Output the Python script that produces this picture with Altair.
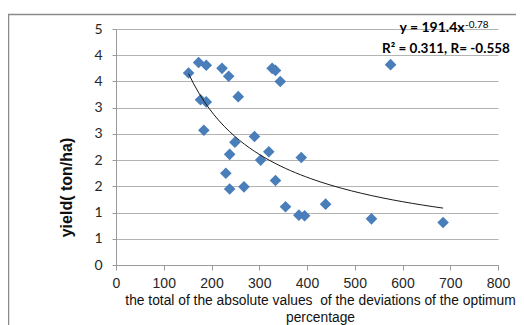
import altair as alt
import pandas as pd

# deviation totals (x) and yields (y)
dev_total = [152, 173, 189, 222, 236, 256, 177, 189, 184, 290, 249, 238, 303, 230, 238, 268,
             320, 388, 334, 355, 383, 395, 439, 535, 685, 575, 327, 334, 344]
yield_val = [3.66, 3.86, 3.81, 3.75, 3.60, 3.21, 3.15, 3.11, 2.57, 2.45, 2.34, 2.11, 2.00, 1.75,
             1.45, 1.49, 2.16, 2.05, 1.61, 1.11, 0.95, 0.94, 1.16, 0.88, 0.81, 3.82, 3.75, 3.71, 3.50]

x_ticks = [0, 100, 200, 300, 400, 500, 600, 700, 800]
y_ticks = [0, 0.5, 1, 1.5, 2, 2.5, 3, 3.5, 4, 4.5]

eq_line1 = "y = 191.4x"
eq_sup = "-0.78"
eq_line2 = "R\u00b2 = 0.311, R= -0.558"

x_title = ["the total of the absolute values\u00a0 of the deviations of the optimum", "percentage"]
y_title = "yield( ton/ha)"

df = pd.DataFrame({"x": dev_total, "y": yield_val})

GRID = "#b3b3b3"
AX = "#9a9a9a"

x_axis = alt.Axis(
    values=x_ticks, tickCount=30, grid=False, tickSize=5, labelPadding=6,
    labelFont="Liberation Sans", labelFontSize=14, labelColor="#262626",
    labelOverlap=False, labelFlush=False,
    domainColor=AX, tickColor=AX,
    title=x_title, titleFont="Liberation Sans", titleFontSize=13.8,
    titleFontWeight="normal", titleColor="#111111",
    titleX=204, titleY=39, titleAlign="center", titleBaseline="alphabetic",
    titleLineHeight=17,
)
y_axis = alt.Axis(
    values=y_ticks, tickCount=30, labelExpr="'' + round(datum.value)",
    labelOverlap=False, labelFlush=False,
    grid=True, gridColor=GRID, gridWidth=1,
    tickSize=4, labelPadding=10,
    labelFont="Lato", labelFontSize=14, labelColor="#262626",
    domainColor=AX, tickColor=AX,
    title=y_title, titleFont="Liberation Sans", titleFontSize=16,
    titleFontWeight="bold", titleColor="#111111",
    titleX=-50, titleY=158, titleAlign="center", titleBaseline="middle",
    titleAngle=270,
)

x_scale = alt.Scale(domain=[0, 800], nice=False, zero=False)
y_scale = alt.Scale(domain=[0, 4.5], nice=False, zero=False)


def xpos(v):
    return alt.XDatum(v, type="quantitative", scale=x_scale, axis=x_axis)


def ypos(v):
    return alt.YDatum(v, type="quantitative", scale=y_scale, axis=y_axis)


base = alt.Chart(df)

points = base.mark_point(shape="diamond", filled=True, size=135, opacity=1, color="#4a7ebb").encode(
    x=alt.X("x:Q", scale=x_scale, axis=x_axis),
    y=alt.Y("y:Q", scale=y_scale, axis=y_axis),
)

trend = base.transform_regression("x", "y", method="pow").mark_line(
    color="#1a1a1a", strokeWidth=1
).encode(
    x=alt.X("x:Q", scale=x_scale, axis=x_axis),
    y=alt.Y("y:Q", scale=y_scale, axis=y_axis),
)

txt1 = alt.Chart(pd.DataFrame({"t": [eq_line1]})).mark_text(
    font="Lato", fontSize=14, fontWeight="bold", align="right", baseline="alphabetic", color="#000000"
).encode(x=xpos(730), y=ypos(4.45), text="t:N")

txt_sup = alt.Chart(pd.DataFrame({"t": [eq_sup]})).mark_text(
    font="Lato", fontSize=10, align="left", baseline="alphabetic", color="#000000"
).encode(x=xpos(731), y=ypos(4.52), text="t:N")

txt2 = alt.Chart(pd.DataFrame({"t": [eq_line2]})).mark_text(
    font="Lato", fontSize=13.5, fontWeight="bold", align="center", baseline="alphabetic", color="#000000"
).encode(x=xpos(691), y=ypos(4.05), text="t:N")

border = alt.Chart(pd.DataFrame({"a": [0]})).mark_rect(
    fillOpacity=0, stroke="#8a8a8a", strokeWidth=1.5
).encode(x=alt.value(-107.5), x2=alt.value(420), y=alt.value(-14.5), y2=alt.value(330))

chart = alt.layer(border, points, trend, txt1, txt_sup, txt2).properties(
    width=382, height=236,
    autosize=alt.AutoSizeParams(type="none"),
    padding={"left": 108, "top": 21, "right": 18, "bottom": 60},
    background="white",
).configure_view(strokeWidth=0)

chart.save("out.html", embed_options={"renderer": "svg", "actions": False})
